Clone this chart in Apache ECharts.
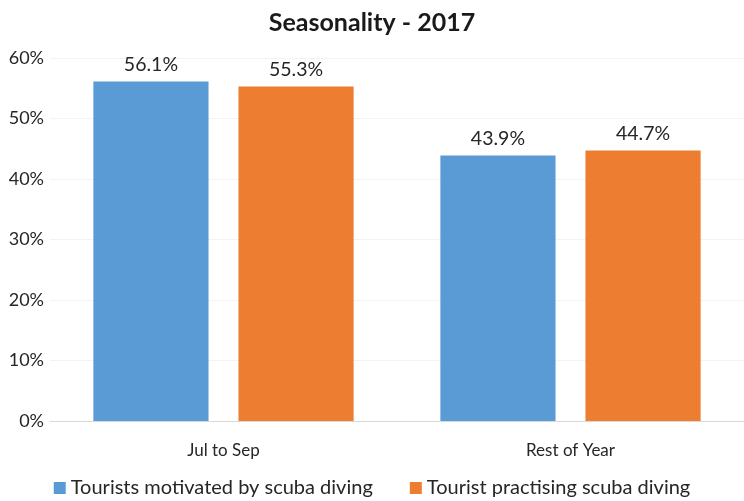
<!DOCTYPE html>
<html>
<head>
<meta charset="utf-8">
<script src="https://cdn.jsdelivr.net/npm/echarts@6/dist/echarts.min.js"></script>
<style>
  html, body { margin: 0; padding: 0; background: #fff; }
  #chart { width: 744px; height: 501px; }
</style>
</head>
<body>
<div id="chart"></div>
<script>
const categories = ['Jul to Sep', 'Rest of Year'];
const motivated = [56.1, 43.9];
const practising = [55.3, 44.7];
const seriesNames = ['Tourists motivated by scuba diving', 'Tourist practising scuba diving'];
const yTicks = [0, 10, 20, 30, 40, 50, 60];

const FONT = 'Lato, "Open Sans", sans-serif';

const chart = echarts.init(document.getElementById('chart'), null, { renderer: 'canvas' });

const labelCfg = {
  show: true,
  position: 'top',
  distance: 7,
  color: '#262626',
  fontSize: 19.5,
  fontFamily: FONT,
  formatter: p => p.value.toFixed(1) + '%'
};

chart.setOption({
  backgroundColor: '#ffffff',
  animation: false,
  title: {
    text: 'Seasonality - 2017',
    left: 'center',
    top: 5,
    textStyle: { fontFamily: FONT, fontWeight: 'bold', fontSize: 25, color: '#1a1a1a' }
  },
  grid: { left: 50, right: -6, top: 58, bottom: 80, containLabel: false },
  legend: {
    bottom: -2,
    left: 'center',
    itemWidth: 12,
    itemHeight: 12,
    itemGap: 37,
    icon: 'rect',
    textStyle: { fontFamily: FONT, fontSize: 20, color: '#262626' },
    data: seriesNames
  },
  xAxis: {
    type: 'category',
    data: categories,
    axisLine: { lineStyle: { color: '#d9d9d9', width: 1 } },
    axisTick: { show: false },
    axisLabel: { fontFamily: FONT, fontSize: 17, color: '#262626', margin: 21 }
  },
  yAxis: {
    type: 'value',
    min: yTicks[0],
    max: yTicks[yTicks.length - 1],
    interval: 10,
    axisLine: { show: false },
    axisTick: { show: false },
    splitLine: { lineStyle: { color: '#f3f3f3', width: 1 } },
    axisLabel: {
      fontFamily: FONT, fontSize: 18, color: '#262626', margin: 6,
      formatter: v => v + '%'
    }
  },
  series: [
    {
      name: seriesNames[0],
      type: 'bar',
      data: motivated,
      itemStyle: { color: '#5b9bd5' },
      barGap: '26%',
      barCategoryGap: '25%',
      label: labelCfg
    },
    {
      name: seriesNames[1],
      type: 'bar',
      data: practising,
      itemStyle: { color: '#ed7d31' },
      label: labelCfg
    }
  ]
});
</script>
</body>
</html>
